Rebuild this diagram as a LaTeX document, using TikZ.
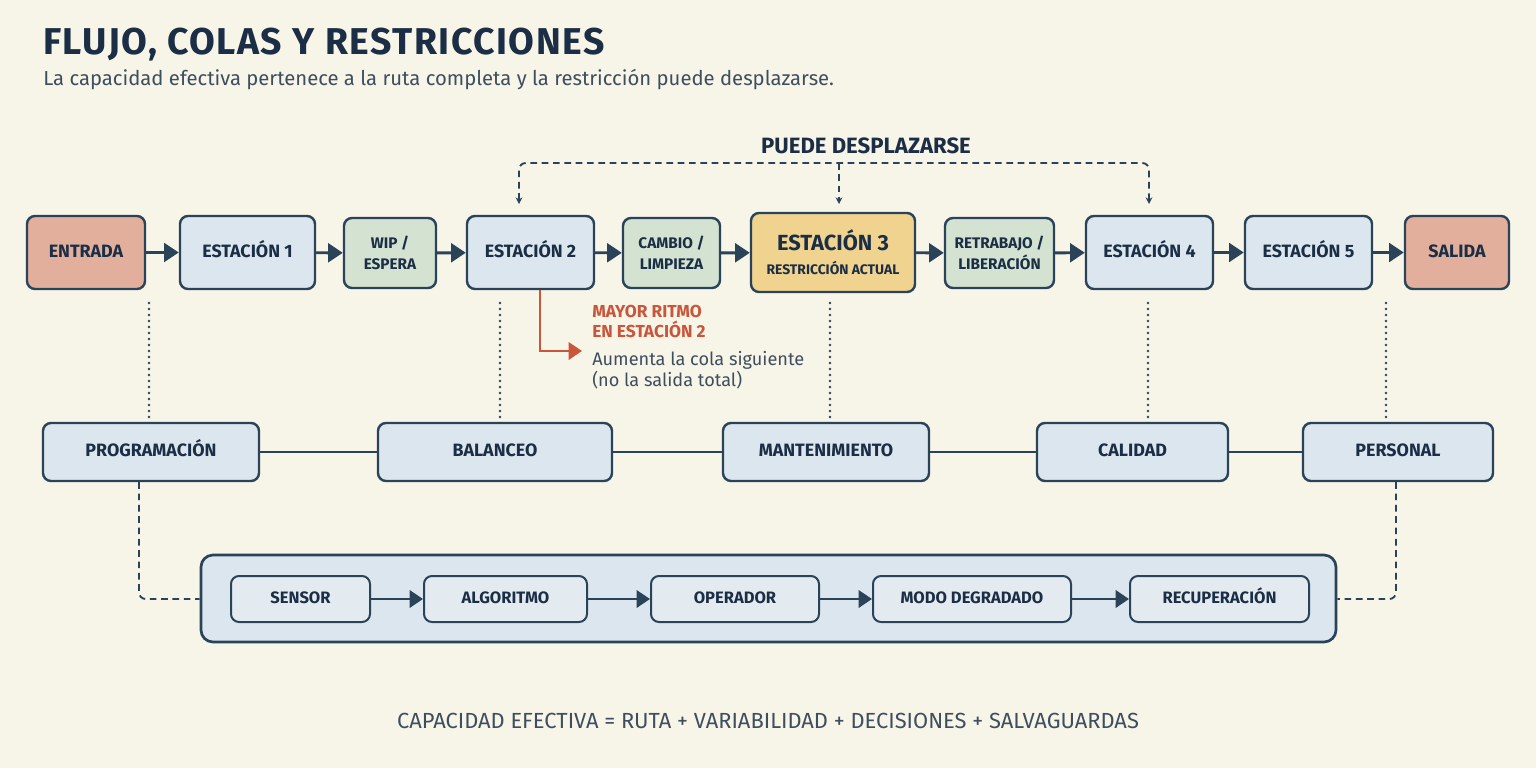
\documentclass[tikz,border=0pt]{standalone}
\usepackage{fontspec}
\setmainfont{Fira Sans}
\newfontfamily\titlefont{Fira Sans}[LetterSpace=4]
\usetikzlibrary{arrows.meta,calc}
\definecolor{bg}{HTML}{F7F4E8}
\definecolor{navy}{HTML}{1B2E45}
\definecolor{edge}{HTML}{2B4358}
\definecolor{bluef}{HTML}{DCE6EE}
\definecolor{greenf}{HTML}{D4E2D1}
\definecolor{salmon}{HTML}{E2AF9D}
\definecolor{yellowf}{HTML}{F0D38E}
\definecolor{redc}{HTML}{C9553A}
\definecolor{grayt}{HTML}{3E4E5E}
\tikzset{
  box/.style={draw=edge, line width=1.8pt, rounded corners=6pt, inner sep=0pt, align=center, text=navy, font=\bfseries\fontsize{13.4}{16}\selectfont},
  oneline/.style={text height=0.69em, text depth=0pt},
  bluebox/.style={box, oneline, fill=bluef},
  greenbox/.style={box, fill=greenf, font=\bfseries\fontsize{11.5}{15.5}\selectfont},
  redbox/.style={box, oneline, fill=salmon},
  yellowbox/.style={box, fill=yellowf},
  flow/.style={draw=edge, line width=2.2pt, -{Triangle[length=11pt,width=14pt]}},
  conn/.style={draw=edge, line width=1.8pt},
  dotline/.style={draw=edge, line width=2pt, line cap=round, dash pattern=on 0pt off 4.5pt},
  dashline/.style={draw=edge, line width=1.4pt, dash pattern=on 5pt off 3.5pt},
  innerbox/.style={box, oneline, fill=bluef!80!white, line width=1.5pt, font=\bfseries\fontsize{12.4}{14}\selectfont},
  smallflow/.style={draw=edge, line width=1.8pt, -{Triangle[length=10pt,width=13pt]}},
}
% \bx{style}{x1}{y1}{x2}{y2}{name}{text}
\newcommand{\bx}[7]{\node[#1, minimum width={(#4-#2)*0.75pt}, minimum height={(#5-#3)*0.75pt}] (#6) at ({(#2+#4)/2},{(#3+#5)/2}) {#7};}
\begin{document}
\begin{tikzpicture}[x=0.75pt,y=-0.75pt]
\fill[bg] (0,0) rectangle (1536,768);
\useasboundingbox (0,0) rectangle (1536,768);

% titles
\node[anchor=west, inner sep=0pt, text=navy, font=\titlefont\bfseries\fontsize{28}{32}\selectfont] (title) at (43,45) {FLUJO, COLAS Y RESTRICCIONES};
\node[anchor=west, inner sep=0pt, text=grayt, font=\fontsize{15.2}{18}\selectfont] (sub) at (43,80) {La capacidad efectiva pertenece a la ruta completa y la restricción puede desplazarse.};

% row 1
\bx{redbox}{27}{216}{145}{289}{in}{ENTRADA}
\bx{bluebox}{180}{216}{315}{289}{e1}{ESTACIÓN 1}
\bx{greenbox}{344}{218}{436}{288}{wip}{WIP /\\ESPERA}
\bx{bluebox}{467}{216}{594}{289}{e2}{ESTACIÓN 2}
\bx{greenbox}{623}{218}{720}{288}{cam}{CAMBIO /\\LIMPIEZA}
\bx{yellowbox}{751}{213}{915}{292}{e3}{\fontsize{16.4}{19}\selectfont ESTACIÓN 3\\[2pt]\fontsize{10.4}{12}\selectfont RESTRICCIÓN ACTUAL}
\bx{greenbox}{945}{218}{1054}{288}{ret}{RETRABAJO /\\LIBERACIÓN}
\bx{bluebox}{1086}{216}{1213}{289}{e4}{ESTACIÓN 4}
\bx{bluebox}{1245}{216}{1372}{289}{e5}{ESTACIÓN 5}
\bx{redbox}{1405}{216}{1509}{289}{out}{SALIDA}

\draw[flow] (in) -- (e1);
\draw[flow] (e1) -- (wip);
\draw[flow] (wip) -- (e2);
\draw[flow] (e2) -- (cam);
\draw[flow] (cam) -- (e3);
\draw[flow] (e3) -- (ret);
\draw[flow] (ret) -- (e4);
\draw[flow] (e4) -- (e5);
\draw[flow] (e5) -- (out);

% puede desplazarse
\node[text=navy, font=\bfseries\fontsize{16.6}{19}\selectfont] (pd) at (866,146) {PUEDE DESPLAZARSE};
\coordinate (d2) at (519,204);
\coordinate (d3) at (839,204);
\coordinate (d4) at (1149,204);
\draw[dashline, rounded corners=5pt, {Stealth[length=5pt,width=5pt]}-{Stealth[length=5pt,width=5pt]}] (d2) -- (519,163) -- (1149,163) -- (d4);
\draw[dashline, -{Stealth[length=5pt,width=5pt]}] (839,163) -- (d3);

% red note
\coordinate (rt) at (582,351);
\draw[draw=redc, line width=1.8pt, -{Triangle[length=10pt,width=13pt]}] (e2.south -| 540,0) -- (540,351) -- (rt);
\node[anchor=north west, inner sep=0pt, text=redc, align=left, font=\bfseries\fontsize{13}{15}\selectfont] (may) at (592,305) {MAYOR RITMO\\EN ESTACIÓN 2};
\node[anchor=north west, inner sep=0pt, text=grayt, align=left, font=\fontsize{13.6}{15.5}\selectfont] (aum) at (592,351) {Aumenta la cola siguiente\\(no la salida total)};

% row 2
\bx{bluebox}{43}{423}{259}{481}{prog}{PROGRAMACIÓN}
\bx{bluebox}{378}{423}{612}{481}{bal}{BALANCEO}
\bx{bluebox}{723}{423}{929}{481}{man}{MANTENIMIENTO}
\bx{bluebox}{1037}{423}{1228}{481}{cal}{CALIDAD}
\bx{bluebox}{1303}{423}{1493}{481}{per}{PERSONAL}
\draw[conn] (prog) -- (bal);
\draw[conn] (bal) -- (man);
\draw[conn] (man) -- (cal);
\draw[conn] (cal) -- (per);

% dotted verticals
\foreach \x in {149,500,830,1148,1386}{
  \draw[dotline] (\x,303) -- (\x,418);
}

% container
\bx{box, fill=bluef, line width=2pt, rounded corners=9pt}{201}{555}{1336}{642}{cont}{}
\bx{innerbox}{231}{576}{370}{622}{sen}{SENSOR}
\bx{innerbox}{424}{576}{587}{622}{alg}{ALGORITMO}
\bx{innerbox}{651}{576}{819}{622}{ope}{OPERADOR}
\bx{innerbox}{873}{576}{1071}{622}{mod}{MODO DEGRADADO}
\bx{innerbox}{1130}{576}{1309}{622}{rec}{RECUPERACIÓN}
\draw[smallflow] (sen) -- (alg);
\draw[smallflow] (alg) -- (ope);
\draw[smallflow] (ope) -- (mod);
\draw[smallflow] (mod) -- (rec);

\draw[dashline, rounded corners=5pt] (prog.south -| 139,0) -- (139,599) -- (cont.west |- 0,599);
\draw[dashline, rounded corners=5pt] (per.south -| 1396,0) -- (1396,599) -- (cont.east |- 0,599);

% formula
\node[text=grayt, font=\fontsize{16.4}{19}\selectfont] (form) at (768,721) {CAPACIDAD EFECTIVA = RUTA + VARIABILIDAD + DECISIONES + SALVAGUARDAS};
\end{tikzpicture}
\end{document}
